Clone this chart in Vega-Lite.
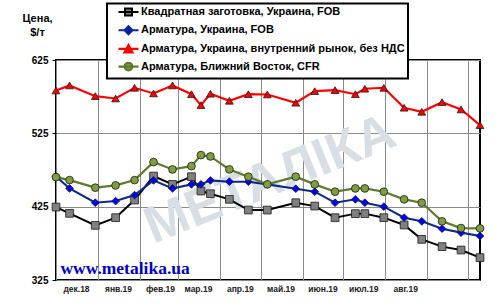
{
  "$schema": "https://vega.github.io/schema/vega-lite/v6.json",
  "width": 424,
  "height": 220,
  "autosize": {"type": "none"},
  "padding": {"left": 56, "top": 60, "right": 20, "bottom": 24},
  "background": "#ffffff",
  "config": {
    "view": {"stroke": "#000000", "strokeWidth": 2},
    "font": "Liberation Sans"
  },
  "data": {
    "format": {"parse": {"date": "date:'%Y-%m-%d'"}},
    "values": [
      {"date": "2018-12-01", "Квадратная заготовка, Украина, FOB": 424.5, "Арматура, Украина, FOB": 466.3, "Арматура, Украина, внутренний рынок, без НДС": 583.4, "Арматура, Ближний Восток, CFR": 465.3},
      {"date": "2018-12-11", "Квадратная заготовка, Украина, FOB": 415.9, "Арматура, Украина, FOB": 449.9, "Арматура, Украина, внутренний рынок, без НДС": 590.3, "Арматура, Ближний Восток, CFR": 461.2},
      {"date": "2018-12-30", "Квадратная заготовка, Украина, FOB": 399.5, "Арматура, Украина, FOB": 430.4, "Арматура, Украина, внутренний рынок, без НДС": 575.7, "Арматура, Ближний Восток, CFR": 450.9},
      {"date": "2019-01-14", "Квадратная заготовка, Украина, FOB": 410.0, "Арматура, Украина, FOB": 432.6, "Арматура, Украина, внутренний рынок, без НДС": 572.5, "Арматура, Ближний Восток, CFR": 454.0},
      {"date": "2019-01-28", "Квадратная заготовка, Украина, FOB": 434.0, "Арматура, Украина, FOB": 440.8, "Арматура, Украина, внутренний рынок, без НДС": 587.1, "Арматура, Ближний Восток, CFR": 461.2},
      {"date": "2019-02-11", "Квадратная заготовка, Украина, FOB": 466.7, "Арматура, Украина, FOB": 460.8, "Арматура, Украина, внутренний рынок, без НДС": 579.4, "Арматура, Ближний Восток, CFR": 485.8},
      {"date": "2019-02-25", "Квадратная заготовка, Украина, FOB": 455.4, "Арматура, Украина, FOB": 449.9, "Арматура, Украина, внутренний рынок, без НДС": 590.3, "Арматура, Ближний Восток, CFR": 475.8},
      {"date": "2019-03-11", "Квадратная заготовка, Украина, FOB": 465.9, "Арматура, Украина, FOB": 455.4, "Арматура, Украина, внутренний рынок, без НДС": 578.4, "Арматура, Ближний Восток, CFR": 480.3},
      {"date": "2019-03-18", "Квадратная заготовка, Украина, FOB": 446.3, "Арматура, Украина, FOB": 455.4, "Арматура, Украина, внутренний рынок, без НДС": 563.4, "Арматура, Ближний Восток, CFR": 495.3},
      {"date": "2019-03-25", "Квадратная заготовка, Украина, FOB": 442.7, "Арматура, Украина, FOB": 460.8, "Арматура, Украина, внутренний рынок, без НДС": 579.0, "Арматура, Ближний Восток, CFR": 493.5},
      {"date": "2019-04-08", "Квадратная заготовка, Украина, FOB": 435.0, "Арматура, Украина, FOB": 459.1, "Арматура, Украина, внутренний рынок, без НДС": 569.4, "Арматура, Ближний Восток, CFR": 475.8},
      {"date": "2019-04-22", "Квадратная заготовка, Украина, FOB": 420.4, "Арматура, Украина, FOB": 459.1, "Арматура, Украина, внутренний рынок, без НДС": 578.4, "Арматура, Ближний Восток, CFR": 465.9},
      {"date": "2019-05-06", "Квадратная заготовка, Украина, FOB": 420.4, "Арматура, Украина, FOB": 455.4, "Арматура, Украина, внутренний рынок, без НДС": 578.0, "Арматура, Ближний Восток, CFR": 455.4},
      {"date": "2019-05-27", "Квадратная заготовка, Украина, FOB": 430.4, "Арматура, Украина, FOB": 449.5, "Арматура, Украина, внутренний рынок, без НДС": 566.7, "Арматура, Ближний Восток, CFR": 465.9},
      {"date": "2019-06-10", "Квадратная заготовка, Украина, FOB": 425.8, "Арматура, Украина, FOB": 445.4, "Арматура, Украина, внутренний рынок, без НДС": 582.5, "Арматура, Ближний Восток, CFR": 455.4},
      {"date": "2019-06-25", "Квадратная заготовка, Украина, FOB": 410.0, "Арматура, Украина, FOB": 430.4, "Арматура, Украина, внутренний рынок, без НДС": 583.9, "Арматура, Ближний Восток, CFR": 445.4},
      {"date": "2019-07-10", "Квадратная заготовка, Украина, FOB": 415.5, "Арматура, Украина, FOB": 435.0, "Арматура, Украина, внутренний рынок, без НДС": 578.4, "Арматура, Ближний Восток, CFR": 449.9},
      {"date": "2019-07-17", "Квадратная заготовка, Украина, FOB": 415.5, "Арматура, Украина, FOB": 430.4, "Арматура, Украина, внутренний рынок, без НДС": 585.8, "Арматура, Ближний Восток, CFR": 449.9},
      {"date": "2019-07-31", "Квадратная заготовка, Украина, FOB": 410.0, "Арматура, Украина, FOB": 425.0, "Арматура, Украина, внутренний рынок, без НДС": 587.1, "Арматура, Ближний Восток, CFR": 445.4},
      {"date": "2019-08-15", "Квадратная заготовка, Украина, FOB": 400.0, "Арматура, Украина, FOB": 410.0, "Арматура, Украина, внутренний рынок, без НДС": 559.9, "Арматура, Ближний Восток, CFR": 435.0},
      {"date": "2019-08-28", "Квадратная заготовка, Украина, FOB": 380.4, "Арматура, Украина, FOB": 405.0, "Арматура, Украина, внутренний рынок, без НДС": 554.4, "Арматура, Ближний Восток, CFR": 430.4},
      {"date": "2019-09-12", "Квадратная заготовка, Украина, FOB": 370.5, "Арматура, Украина, FOB": 395.0, "Арматура, Украина, внутренний рынок, без НДС": 567.5, "Арматура, Ближний Восток, CFR": 405.0},
      {"date": "2019-09-26", "Квадратная заготовка, Украина, FOB": 365.9, "Арматура, Украина, FOB": 389.6, "Арматура, Украина, внутренний рынок, без НДС": 557.6, "Арматура, Ближний Восток, CFR": 395.8},
      {"date": "2019-10-10", "Квадратная заготовка, Украина, FOB": 355.5, "Арматура, Украина, FOB": 385.0, "Арматура, Украина, внутренний рынок, без НДС": 536.2, "Арматура, Ближний Восток, CFR": 395.4}
    ]
  },
  "layer": [
    {
      "data": {"values": [{"label": "МЕТАЛІКА"}]},
      "mark": {"type": "text", "angle": -22, "fontSize": 52, "fontWeight": "bold", "font": "Liberation Sans", "fill": "#d7dfe5", "align": "center", "baseline": "middle"},
      "encoding": {
        "x": {"datum": {"year": 2019, "month": 5, "date": 8}, "type": "temporal"},
        "y": {"datum": 462, "type": "quantitative"},
        "text": {"field": "label", "type": "nominal"}
      }
    },
    {
      "data": {"values": [{"label": "www.metalika.ua"}]},
      "mark": {"type": "text", "fontSize": 17.5, "fontWeight": "bold", "font": "Liberation Serif", "fill": "#0000cc", "align": "center", "baseline": "alphabetic"},
      "encoding": {
        "x": {"datum": {"year": 2019, "month": 1, "date": 21}, "type": "temporal"},
        "y": {"datum": 333, "type": "quantitative"},
        "text": {"field": "label", "type": "nominal"}
      }
    },
    {
      "transform": [{"fold": ["Квадратная заготовка, Украина, FOB", "Арматура, Украина, FOB", "Арматура, Украина, внутренний рынок, без НДС", "Арматура, Ближний Восток, CFR"], "as": ["series", "price"]}],
      "mark": {"type": "line"},
      "encoding": {
        "x": {
          "field": "date",
          "type": "temporal",
          "title": null,
          "scale": {"domain": [{"year": 2018, "month": 12, "date": 1}, {"year": 2019, "month": 10, "date": 10}], "nice": false},
          "axis": {
            "values": [
              {"year": 2018, "month": 12, "date": 1},
              {"year": 2019, "month": 1, "date": 1},
              {"year": 2019, "month": 2, "date": 1},
              {"year": 2019, "month": 3, "date": 1},
              {"year": 2019, "month": 4, "date": 1},
              {"year": 2019, "month": 5, "date": 1},
              {"year": 2019, "month": 6, "date": 1},
              {"year": 2019, "month": 7, "date": 1},
              {"year": 2019, "month": 8, "date": 1},
              {"year": 2019, "month": 9, "date": 1},
              {"year": 2019, "month": 10, "date": 1}
            ],
            "labelExpr": "(month(datum.value) == 8 || month(datum.value) == 9) ? '' : ['янв','фев','мар','апр','май','июн','июл','авг','сен','окт','ноя','дек'][month(datum.value)] + '.' + timeFormat(datum.value, '%y')",
            "labelOffset": 20,
            "labelFlush": false,
            "labelOverlap": false,
            "labelAlign": "center",
            "labelFont": "Liberation Sans",
            "labelFontWeight": "bold",
            "labelFontSize": 8.5,
            "labelColor": "#222222",
            "labelPadding": 4,
            "ticks": false,
            "domain": false,
            "grid": true,
            "gridColor": "#8a8a8a",
            "gridWidth": 1
          }
        },
        "y": {
          "field": "price",
          "type": "quantitative",
          "scale": {"domain": [325, 625], "nice": false, "zero": false},
          "axis": {
            "values": [325, 425, 525, 625],
            "title": ["Цена,", "$/т"],
            "titleAngle": 0,
            "titleX": -19,
            "titleY": -48,
            "titleAlign": "center",
            "titleBaseline": "top",
            "titleFont": "Liberation Sans",
            "titleFontSize": 11,
            "titleFontWeight": "bold",
            "titleColor": "#000000",
            "titleLineHeight": 14,
            "labelFont": "Liberation Sans",
            "labelFontSize": 10,
            "labelFontWeight": "bold",
            "labelColor": "#000000",
            "labelPadding": 4,
            "tickSize": 4,
            "tickColor": "#000000",
            "domain": false,
            "grid": true,
            "gridColor": "#8a8a8a",
            "gridWidth": 1
          }
        },
        "stroke": {
          "field": "series",
          "type": "nominal",
          "scale": {
            "domain": ["Квадратная заготовка, Украина, FOB", "Арматура, Украина, FOB", "Арматура, Украина, внутренний рынок, без НДС", "Арматура, Ближний Восток, CFR"],
            "range": ["#000000", "#0a2a8c", "#ff0000", "#5d7a2c"]
          },
          "legend": {
            "orient": "none",
            "legendX": 51,
            "legendY": -56.5,
            "title": null,
            "fillColor": "#ffffff",
            "strokeColor": "#000000",
            "padding": 3,
            "symbolSize": 81,
            "symbolStrokeWidth": 2,
            "symbolOffset": 12.5,
            "labelFont": "Liberation Sans",
            "labelFontSize": 11,
            "labelFontWeight": "bold",
            "labelColor": "#000000",
            "labelLimit": 400,
            "labelOffset": 6.5,
            "rowPadding": 0.7,
            "encode": {
              "symbols": {
                "update": {
                  "shape": {"signal": "datum.value == 'Квадратная заготовка, Украина, FOB' ? 'M-2.22,0H2.22M-0.78,-0.78H0.78V0.78H-0.78Z' : datum.value == 'Арматура, Украина, FOB' ? 'M-2.22,0H2.22M0,-0.89L0.89,0L0,0.89L-0.89,0Z' : datum.value == 'Арматура, Украина, внутренний рынок, без НДС' ? 'M-2.22,0H2.22M0,-0.89L0.89,0.78H-0.89Z' : 'M-2.22,0H2.22M-0.85,0A0.85,0.85,0,1,0,0.85,0A0.85,0.85,0,1,0,-0.85,0Z'"},
                  "fill": {"signal": "datum.value == 'Квадратная заготовка, Украина, FOB' ? '#808080' : datum.value == 'Арматура, Украина, FOB' ? '#0000ff' : datum.value == 'Арматура, Украина, внутренний рынок, без НДС' ? '#ff0000' : '#7f9f3f'"},
                  "size": {"value": 81},
                  "strokeWidth": {"value": 2},
                  "opacity": {"value": 1}
                }
              },
              "legend": {
                "update": {"strokeWidth": {"value": 2}}
              }
            }
          }
        },
        "strokeWidth": {
          "field": "series",
          "type": "nominal",
          "scale": {
            "domain": ["Квадратная заготовка, Украина, FOB", "Арматура, Украина, FOB", "Арматура, Украина, внутренний рынок, без НДС", "Арматура, Ближний Восток, CFR"],
            "range": [2, 2.2, 3, 2]
          },
          "legend": null
        }
      }
    },
    {
      "transform": [{"fold": ["Квадратная заготовка, Украина, FOB", "Арматура, Украина, FOB", "Арматура, Украина, внутренний рынок, без НДС", "Арматура, Ближний Восток, CFR"], "as": ["series", "price"]}],
      "mark": {"type": "point", "filled": true, "opacity": 1, "stroke": "#1a1a1a", "strokeWidth": 0.8, "size": 60},
      "encoding": {
        "x": {"field": "date", "type": "temporal"},
        "y": {"field": "price", "type": "quantitative"},
        "shape": {
          "field": "series",
          "type": "nominal",
          "scale": {
            "domain": ["Арматура, Ближний Восток, CFR", "Арматура, Украина, внутренний рынок, без НДС", "Арматура, Украина, FOB", "Квадратная заготовка, Украина, FOB"],
            "range": ["circle", "triangle-up", "diamond", "square"]
          },
          "legend": null
        },
        "fill": {
          "field": "series",
          "type": "nominal",
          "scale": {
            "domain": ["Арматура, Ближний Восток, CFR", "Арматура, Украина, внутренний рынок, без НДС", "Арматура, Украина, FOB", "Квадратная заготовка, Украина, FOB"],
            "range": ["#7f9f3f", "#ff0000", "#0000ff", "#808080"]
          },
          "legend": null
        }
      }
    }
  ]
}
